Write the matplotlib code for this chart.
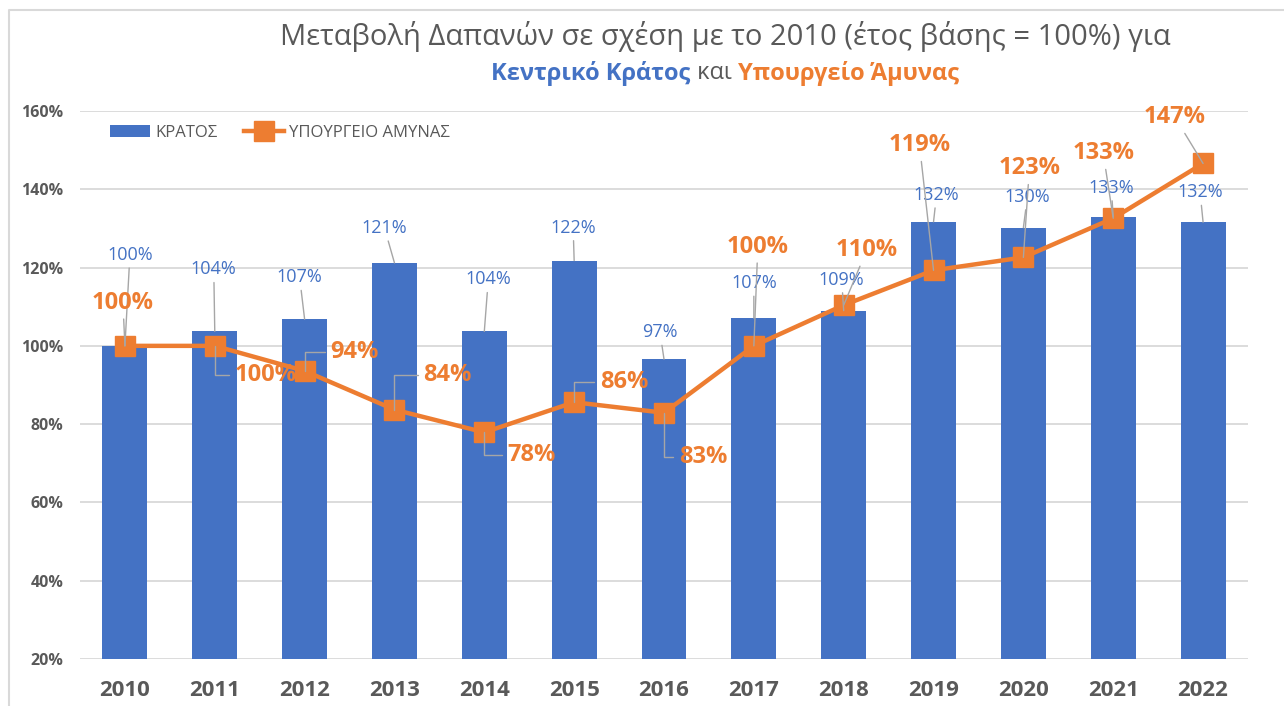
import numpy as np
import matplotlib
matplotlib.use("Agg")
import matplotlib.pyplot as plt
from matplotlib.lines import Line2D

plt.rcParams['font.family'] = ['Open Sans', 'DejaVu Sans']

# δεδομένα
years = ["2010", "2011", "2012", "2013", "2014", "2015", "2016",
         "2017", "2018", "2019", "2020", "2021", "2022"]
kratos = [100.0, 103.7, 106.8, 121.2, 103.7, 121.8, 96.6,
          107.1, 109.0, 131.7, 130.2, 133.0, 131.6]
amyna = [100.0, 100.0, 93.6, 83.7, 77.9, 85.6, 82.9,
         100.0, 110.4, 119.3, 122.6, 132.6, 146.6]
yticks = [20, 40, 60, 80, 100, 120, 140, 160]

# θέσεις ετικετών (offset σε pixels από το σημείο)
kratos_off = [(5, 91), (-1, 62), (-5, 42), (-10, 35), (4, 52), (-1, 33), (-4, 27),
              (0, 35), (-2, 31), (3, 27), (4, 31), (-2, 29), (-3, 30)]
amyna_off = [(-2, 43), (51, -29), (50, 19), (53, 35), (47, -23), (50, 20), (39, -44),
             (4, 99), (23, 55), (-14, 125), (6, 89), (-10, 65), (-28, 46)]
elbow = [False, True, True, True, True, True, True,
         False, False, False, False, False, False]

BLUE = "#4472C4"
ORANGE = "#ED7D31"
GRAY = "#595959"
LEAD = "#A6A6A6"

fig = plt.figure(figsize=(12.84, 7.06), dpi=100)
ax = fig.add_axes([80 / 1284, 1 - 659 / 706, 1168 / 1284, 548 / 706])

x = np.arange(len(years))
bars = ax.bar(x, np.array(kratos) - 20, bottom=20, width=0.5, color=BLUE, zorder=2)
line, = ax.plot(x, amyna, color=ORANGE, lw=3.2, marker="s", ms=14, zorder=4)

ax.set_xlim(-0.5, len(years) - 0.5)
ax.set_ylim(20, 160)
ax.set_yticks(yticks)
ax.set_yticklabels([f"{t}%" for t in yticks], fontsize=11.5, fontweight="bold", color=GRAY)
ax.set_xticks(x)
ax.set_xticklabels(years, fontsize=16, fontweight="bold", color=GRAY)
ax.tick_params(axis="y", length=0, pad=12)
ax.tick_params(axis="x", length=0, pad=15)
ax.grid(axis="y", color="#D9D9D9", lw=1.3, zorder=0)
ax.set_axisbelow(True)
for s in ax.spines.values():
    s.set_visible(False)

# ετικέτες ράβδων
for i, v in enumerate(kratos):
    ax.annotate(f"{v:.0f}%", (i, v), xytext=kratos_off[i], textcoords="offset pixels",
                ha="center", va="center", fontsize=13, color=BLUE, zorder=5,
                arrowprops=dict(arrowstyle="-", color=LEAD, lw=1, shrinkA=1, shrinkB=0))

# ετικέτες γραμμής
for i, v in enumerate(amyna):
    if elbow[i]:
        ap = dict(arrowstyle="-", color=LEAD, lw=1, shrinkA=2, shrinkB=0,
                  relpos=(0, 0.5), connectionstyle="angle,angleA=0,angleB=90,rad=0")
    else:
        ap = dict(arrowstyle="-", color=LEAD, lw=1, shrinkA=1, shrinkB=0)
    ax.annotate(f"{v:.0f}%", (i, v), xytext=amyna_off[i], textcoords="offset pixels",
                ha="center", va="center", fontsize=17, fontweight="bold", color=ORANGE,
                zorder=6, arrowprops=ap)

ax.legend([bars, line], ["ΚΡΑΤΟΣ", "ΥΠΟΥΡΓΕΙΟ ΑΜΥΝΑΣ"],
          loc="upper left", bbox_to_anchor=(0.026, 0.975), ncol=2, frameon=False,
          fontsize=12, labelcolor=GRAY, handlelength=2.4, handletextpad=0.3,
          columnspacing=1.6, borderaxespad=0, borderpad=0)

# τίτλος
fig.text(725 / 1284, 1 - 36 / 706, "Μεταβολή Δαπανών σε σχέση με το 2010 (έτος βάσης = 100%) για",
         ha="center", va="center", fontsize=21, color=GRAY)

parts = [("Κεντρικό Κράτος", BLUE, "bold"), (" και ", GRAY, "normal"),
         ("Υπουργείο Άμυνας", ORANGE, "bold")]
renderer = fig.canvas.get_renderer()
texts = []
total = 0
for s, c, w in parts:
    t = fig.text(0, 1 - 73 / 706, s, ha="left", va="center", fontsize=17, color=c, fontweight=w)
    bb = t.get_window_extent(renderer)
    texts.append((t, bb.width))
    total += bb.width
xpos = 725 - total / 2
for t, w in texts:
    t.set_x(xpos / 1284)
    xpos += w

# πλαίσιο
fig.add_artist(Line2D([9 / 1284, 9 / 1284, 1], [0, 1 - 10 / 706, 1 - 10 / 706],
                      transform=fig.transFigure, color="#D9D9D9", lw=1.5))

fig.savefig("out.png", dpi=100)
